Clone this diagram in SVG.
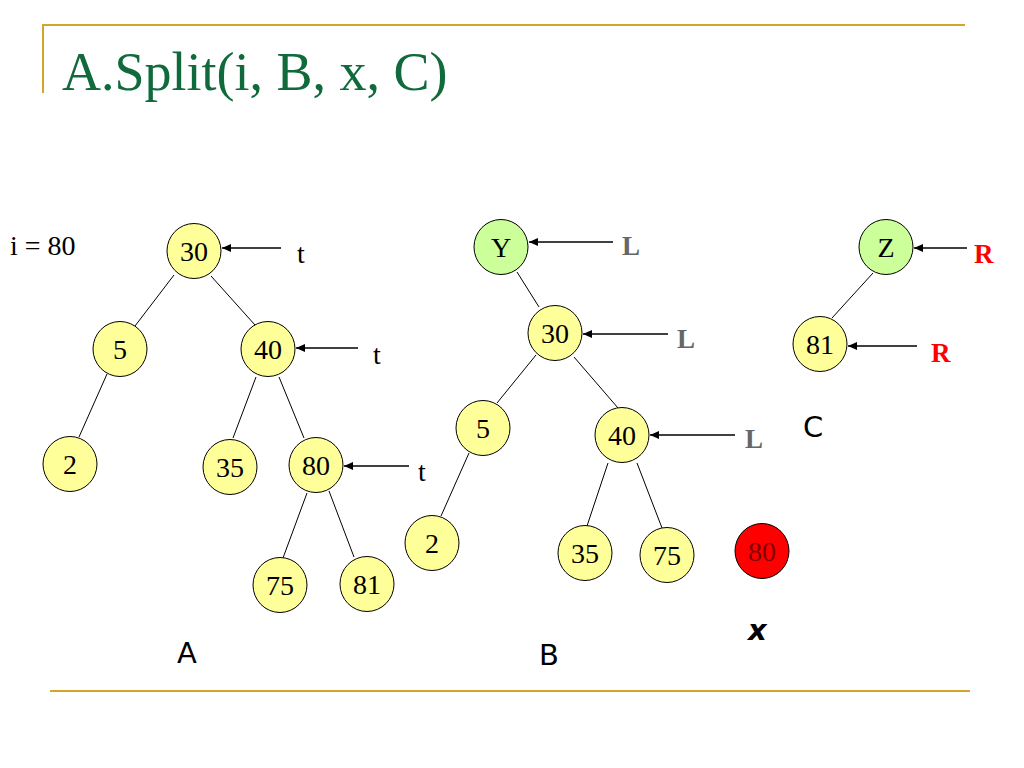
<svg xmlns="http://www.w3.org/2000/svg" width="1024" height="768" viewBox="0 0 1024 768">
<style>
.n{fill:#ffff99;stroke:#000;stroke-width:1}
.g{fill:#ccff99;stroke:#000;stroke-width:1}
.r{fill:#ff0000;stroke:#000;stroke-width:1}
.t{font-family:"Liberation Serif",serif;font-size:28px;fill:#000;text-anchor:middle}
.lbl{font-family:"Liberation Serif",serif;font-size:28px;fill:#000}
.L{font-family:"Liberation Serif",serif;font-size:27px;font-weight:bold;fill:#666666}
.R{font-family:"Liberation Serif",serif;font-size:27px;font-weight:bold;fill:#ff0000}
.big{font-family:"DejaVu Sans",sans-serif;font-size:29px;fill:#000}
.e{stroke:#000;stroke-width:1;fill:none}
.a{stroke:#000;stroke-width:1.3;fill:none;marker-end:url(#ah)}
</style>
<defs>
<marker id="ah" markerUnits="userSpaceOnUse" markerWidth="10" markerHeight="8" refX="9" refY="4" orient="auto">
<path d="M0,0 L9,4 L0,8 z" fill="#000"/>
</marker>
</defs>
<rect width="1024" height="768" fill="#fff"/>
<g id="frame">
<line x1="42" y1="25" x2="965" y2="25" stroke="#d4a52a" stroke-width="2"/>
<line x1="43" y1="25" x2="43" y2="93" stroke="#d4a52a" stroke-width="2"/>
<line x1="50" y1="691" x2="970" y2="691" stroke="#d4a52a" stroke-width="2"/>
<text x="62" y="90" font-family="Liberation Serif, serif" font-size="54" fill="#106a3c">A.Split(i, B, x, C)</text>
</g>
<g id="connectors">
<line class="e" x1="174" y1="275" x2="135" y2="326"/>
<line class="e" x1="211" y1="276" x2="255" y2="325"/>
<line class="e" x1="107" y1="374" x2="79" y2="437"/>
<line class="e" x1="256" y1="377" x2="233" y2="438"/>
<line class="e" x1="279" y1="377" x2="304" y2="438"/>
<line class="e" x1="307" y1="493" x2="283" y2="558"/>
<line class="e" x1="329" y1="491" x2="354" y2="557"/>
<line class="e" x1="517" y1="272" x2="539" y2="307"/>
<line class="e" x1="536" y1="355" x2="497" y2="403"/>
<line class="e" x1="574" y1="357" x2="618" y2="408"/>
<line class="e" x1="469" y1="453" x2="441" y2="516"/>
<line class="e" x1="608" y1="463" x2="587" y2="526"/>
<line class="e" x1="637" y1="463" x2="662" y2="528"/>
<line class="e" x1="873" y1="273" x2="832" y2="318"/>
<line class="a" x1="281" y1="248" x2="222" y2="248"/>
<line class="a" x1="358" y1="348" x2="296" y2="348"/>
<line class="a" x1="409" y1="466" x2="344" y2="466"/>
<line class="a" x1="613" y1="242" x2="529" y2="242"/>
<line class="a" x1="668" y1="334" x2="583" y2="334"/>
<line class="a" x1="735" y1="435" x2="650" y2="435"/>
<line class="a" x1="967" y1="248" x2="914" y2="248"/>
<line class="a" x1="917" y1="346" x2="848" y2="346"/>
</g>
<g id="tree-A">
<g id="a30"><ellipse class="n" cx="194" cy="251" rx="27" ry="27.5"/><text class="t" x="194" y="261">30</text></g>
<g id="a5"><ellipse class="n" cx="120" cy="349" rx="27" ry="27.5"/><text class="t" x="120" y="359">5</text></g>
<g id="a40"><ellipse class="n" cx="268" cy="349" rx="27" ry="27.5"/><text class="t" x="268" y="359">40</text></g>
<g id="a2"><ellipse class="n" cx="70" cy="464" rx="27" ry="27.5"/><text class="t" x="70" y="474">2</text></g>
<g id="a35"><ellipse class="n" cx="230" cy="467" rx="27" ry="27.5"/><text class="t" x="230" y="477">35</text></g>
<g id="a80"><ellipse class="n" cx="316" cy="465" rx="27" ry="27.5"/><text class="t" x="316" y="475">80</text></g>
<g id="a75"><ellipse class="n" cx="280" cy="585" rx="27" ry="27.5"/><text class="t" x="280" y="595">75</text></g>
<g id="a81"><ellipse class="n" cx="367" cy="584" rx="27" ry="27.5"/><text class="t" x="367" y="594">81</text></g>
</g>
<g id="tree-B">
<g id="bY"><ellipse class="g" cx="501" cy="247" rx="27" ry="27.5"/><text class="t" x="501" y="257">Y</text></g>
<g id="b30"><ellipse class="n" cx="555" cy="333" rx="27" ry="27.5"/><text class="t" x="555" y="343">30</text></g>
<g id="b5"><ellipse class="n" cx="483" cy="428" rx="27" ry="27.5"/><text class="t" x="483" y="438">5</text></g>
<g id="b40"><ellipse class="n" cx="622" cy="435" rx="27" ry="27.5"/><text class="t" x="622" y="445">40</text></g>
<g id="b2"><ellipse class="n" cx="432" cy="543" rx="27" ry="27.5"/><text class="t" x="432" y="553">2</text></g>
<g id="b35"><ellipse class="n" cx="585" cy="553" rx="27" ry="27.5"/><text class="t" x="585" y="563">35</text></g>
<g id="b75"><ellipse class="n" cx="667" cy="555" rx="27" ry="27.5"/><text class="t" x="667" y="565">75</text></g>
</g>
<g id="node-x"><ellipse class="r" cx="762" cy="551" rx="27" ry="27.5"/><text class="t" x="762" y="561" style="fill:#800000">80</text></g>
<g id="tree-C">
<g id="cZ"><ellipse class="g" cx="886" cy="247" rx="27" ry="27.5"/><text class="t" x="886" y="257">Z</text></g>
<g id="c81"><ellipse class="n" cx="820" cy="344" rx="27" ry="27.5"/><text class="t" x="820" y="354">81</text></g>
</g>
<g id="labels">
<text class="lbl" x="10" y="255">i = 80</text>
<text class="lbl" x="297" y="263">t</text>
<text class="lbl" x="373" y="364">t</text>
<text class="lbl" x="418" y="481">t</text>
<text class="L" x="622" y="255">L</text>
<text class="L" x="677" y="348">L</text>
<text class="L" x="745" y="448">L</text>
<text class="R" x="974" y="263">R</text>
<text class="R" x="931" y="362">R</text>
<text class="big" x="177" y="663">A</text>
<text class="big" x="539" y="665">B</text>
<text class="big" x="803" y="437">C</text>
<text class="big" x="748" y="640" font-style="italic" font-weight="bold">x</text>
</g>
</svg>
